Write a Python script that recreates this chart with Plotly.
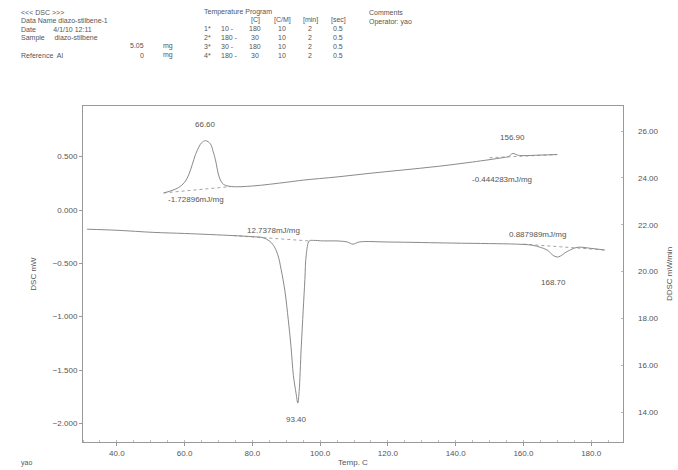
import plotly.graph_objects as go

# ---------------- data ----------------
# upper curve (DSC, mW)
upper_T = [53.8, 56.0, 58.2, 60.0, 61.2, 62.3, 63.2, 64.2, 65.0, 66.2, 67.6, 68.4, 69.1, 70.3, 71.5,
           73.8, 80.0, 90.0, 95.0, 105.0, 115.0, 124.4, 135.0, 145.0, 153.8, 155.5, 156.9, 158.2,
           159.7, 165.0, 170.0]
upper_V = [0.16, 0.18, 0.21, 0.26, 0.33, 0.43, 0.52, 0.59, 0.63, 0.65, 0.62, 0.55, 0.47, 0.30, 0.24,
           0.22, 0.225, 0.26, 0.28, 0.31, 0.345, 0.375, 0.41, 0.45, 0.49, 0.50, 0.53, 0.515,
           0.51, 0.515, 0.52]

# lower curve (DSC, mW)
lower_T = [31.2, 40.0, 50.9, 60.0, 74.4, 80.0, 83.2, 85.0, 86.2, 87.5, 88.5, 89.6, 90.6, 91.4, 92.1,
           92.9, 93.4, 93.8, 94.4, 95.0, 95.5, 95.9, 96.8, 98.0, 100.9, 105.0, 108.0, 109.7, 111.5,
           120.0, 130.0, 139.0, 150.0, 158.0, 162.6, 165.0, 167.0, 169.0, 170.3, 172.9, 175.9,
           180.0, 184.0]
lower_V = [-0.18, -0.19, -0.21, -0.22, -0.24, -0.25, -0.26, -0.29, -0.33, -0.42, -0.56, -0.76,
           -1.03, -1.28, -1.55, -1.72, -1.81, -1.70, -1.30, -0.94, -0.65, -0.42, -0.29, -0.285,
           -0.29, -0.29, -0.30, -0.32, -0.30, -0.30, -0.305, -0.31, -0.315, -0.32, -0.33, -0.35,
           -0.375, -0.43, -0.44, -0.39, -0.35, -0.36, -0.375]

# integration baselines (start/end temperature, value)
base_T = [[53.8, 73.8], [150.0, 170.0], [74.4, 96.8], [160.0, 184.0]]
base_V = [[0.16, 0.22], [0.49, 0.52], [-0.24, -0.29], [-0.32, -0.375]]

# peak / area labels
peak_T = [66.2, 156.9, 93.0, 169.0]
peak_V = [0.65, 0.53, -1.81, -0.44]
peak_text = ["66.60", "156.90", "93.40", "168.70"]
area_text = ["-1.72896mJ/mg", "-0.444283mJ/mg", "12.7378mJ/mg", "0.887989mJ/mg"]
area_T = [54.5, 144.1, 77.9, 155.3]
area_V = [0.10, 0.29, -0.19, -0.225]

x_ticks = [40, 60, 80, 100, 120, 140, 160, 180]
y_ticks = [0.5, 0.0, -0.5, -1.0, -1.5, -2.0]
y2_ticks = [14, 16, 18, 20, 22, 24, 26]

header_left = ["<<< DSC >>>", "Data Name diazo-stilbene-1", "Date         4/1/10 12:11",
               "Sample     diazo-stilbene", "", "Reference  Al"]
prog_rows = [["1*", "10 -", "180", "10", "2", "0.5"],
             ["2*", "180 -", "30", "10", "2", "0.5"],
             ["3*", "30 -", "180", "10", "2", "0.5"],
             ["4*", "180 -", "30", "10", "2", "0.5"]]
prog_head = ["[C]", "[C/M]", "[min]", "[sec]"]

# ---------------- figure ----------------
W, H = 678, 470
L, R, T, B = 83, 55, 106, 28
PW, PH = W - L - R, H - T - B
LINE = "#8a8a8a"
TXT = "#555555"
FONT = "Liberation Sans"

def px(x):
    return (x - L) / PW

def py(y):
    return (H - B - y) / PH

fig = go.Figure()
fig.add_trace(go.Scatter(x=upper_T, y=upper_V, mode="lines",
                         line=dict(color=LINE, width=1, shape="spline"), showlegend=False))
fig.add_trace(go.Scatter(x=lower_T, y=lower_V, mode="lines",
                         line=dict(color=LINE, width=1, shape="spline"), showlegend=False))
for bt, bv in zip(base_T, base_V):
    fig.add_trace(go.Scatter(x=bt, y=bv, mode="lines",
                             line=dict(color=LINE, width=0.8, dash="dot"), showlegend=False))
# invisible trace so the right axis is drawn
fig.add_trace(go.Scatter(x=[x_ticks[0]], y=[y2_ticks[3]], yaxis="y2", mode="markers",
                         marker=dict(opacity=0), showlegend=False, hoverinfo="skip"))

ann = []
shifts = [16, 16, -16, -26]
for t, v, s, sh in zip(peak_T, peak_V, peak_text, shifts):
    ann.append(dict(x=t, y=v, xref="x", yref="y", text=s, showarrow=False, yshift=sh,
                    font=dict(size=8, color=TXT, family=FONT)))
for t, v, s in zip(area_T, area_V, area_text):
    ann.append(dict(x=t, y=v, xref="x", yref="y", text=s, showarrow=False, xanchor="left",
                    font=dict(size=8, color=TXT, family=FONT)))

def ptxt(x, y, s, anchor="left", size=7):
    ann.append(dict(x=px(x), y=py(y), xref="paper", yref="paper", text=s, showarrow=False,
                    xanchor=anchor, yanchor="middle", borderpad=0,
                    font=dict(size=size, color=TXT, family=FONT)))

for i, s in enumerate(header_left):
    if s:
        ptxt(20, 12 + i * 8.7, s)
ptxt(145, 46, "5.05", "right")
ptxt(162, 46, "mg")
ptxt(145, 55, "0", "right")
ptxt(162, 55, "mg")
ptxt(203, 12, "Temperature Program")
for j, hname in enumerate(prog_head):
    ptxt([255, 282, 310, 338][j], 20, hname, "center")
for i, row in enumerate(prog_rows):
    yy = 29 + i * 8.7
    ptxt(203, yy, row[0])
    ptxt(220, yy, row[1])
    for j, v in enumerate(row[2:]):
        ptxt([255, 282, 310, 338][j], yy, v, "center")
ptxt(368, 12, "Comments")
ptxt(368, 22, "Operator: yao")
ptxt(20, 463, "yao")

fig.update_layout(
    width=W, height=H, margin=dict(l=L, r=R, t=T, b=B, pad=0, autoexpand=False),
    paper_bgcolor="white", plot_bgcolor="white",
    font=dict(family=FONT, size=8, color=TXT),
    annotations=ann,
    xaxis=dict(range=[30.0, 189.4], tickvals=x_ticks, tickformat=".1f",
               showline=True, linecolor="#999", linewidth=1, mirror=True,
               ticks="outside", ticklen=3, tickcolor="#999", showgrid=False, zeroline=False,
               title=dict(text="Temp. C", font=dict(size=8, color=TXT), standoff=2),
               minor=dict(ticks="inside", ticklen=2, tickcolor="#bbb", dtick=5)),
    yaxis=dict(range=[-2.175, 0.975], tickvals=y_ticks, tickformat=".3f",
               showline=True, linecolor="#999", linewidth=1, mirror=True,
               ticks="outside", ticklen=3, tickcolor="#999", showgrid=False, zeroline=False,
               title=dict(text="DSC mW", font=dict(size=8, color=TXT), standoff=14)),
    yaxis2=dict(range=[12.72, 27.07], tickvals=y2_ticks, tickformat=".2f", overlaying="y",
                side="right", showline=False, ticks="inside", ticklen=2, tickcolor="#bbb",
                showgrid=False, zeroline=False, ticklabelstandoff=14, automargin=False,
                title=dict(text="DDSC mW/min", font=dict(size=8, color=TXT), standoff=8)),
)

fig.write_html("out.html")
